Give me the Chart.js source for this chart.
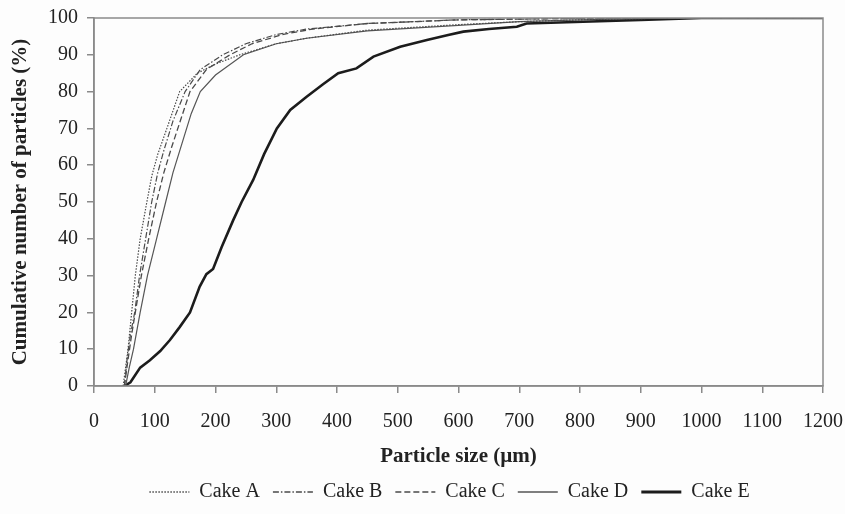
<!DOCTYPE html>
<html>
<head>
<meta charset="utf-8">
<script src="https://cdn.jsdelivr.net/npm/chart.js@4.4.1/dist/chart.umd.min.js"></script>
<style>
  html, body { margin: 0; padding: 0; background: #fdfdfd; }
  #wrap { width: 845px; height: 514px; }
</style>
</head>
<body>
<div id="wrap"><canvas id="graph" width="845" height="514"></canvas></div>
<script>
// values (particle size in µm, cumulative %)
const cakeNames = ['Cake A', 'Cake B', 'Cake C', 'Cake D', 'Cake E'];

const sizeA = [48, 52, 56, 62, 68, 76, 87, 95, 105, 120, 141, 170, 200, 240, 300, 350, 450, 600, 700, 800, 950, 1200];
const cumA  = [0, 5, 10, 20, 30, 40, 50, 57, 63, 70, 80, 85, 87.5, 90, 93, 94.5, 96.7, 98.2, 99, 99.5, 100, 100];

const sizeB = [50, 55, 60, 67, 75, 85, 95, 105, 115, 130, 150, 175, 212, 250, 300, 350, 450, 600, 800, 1000, 1200];
const cumB  = [0, 8, 14, 20, 30, 40, 50, 58, 64, 72, 80, 86, 90, 93, 95.5, 97, 98.5, 99.5, 99.9, 100, 100];

const sizeC = [50, 55, 62, 68, 78, 90, 103, 115, 128, 140, 158, 185, 224, 260, 310, 360, 450, 600, 800, 1000, 1200];
const cumC  = [0, 6, 14, 20, 30, 40, 50, 58, 65, 71, 80, 86, 90, 93, 95.5, 97, 98.5, 99.5, 99.9, 100, 100];

const sizeD = [52, 58, 65, 76, 88, 103, 118, 130, 145, 160, 175, 200, 246, 300, 350, 450, 600, 700, 800, 950, 1200];
const cumD  = [0, 5, 10, 20, 30, 40, 50, 58, 66, 74, 80, 84.5, 90, 93, 94.5, 96.5, 98, 99, 99.5, 100, 100];

const sizeE = [50, 60, 76, 92, 109, 125, 141, 158, 174, 185, 196, 210, 229, 243, 262, 280, 301, 323, 350, 377, 402, 432, 460, 504, 548, 583, 608, 650, 696, 712, 805, 900, 1000, 1200];
const cumE  = [0, 1, 5, 7, 9.5, 12.5, 16, 20, 27, 30.4, 31.8, 37.7, 45, 50, 56, 63, 70, 75, 78.6, 82, 85, 86.3, 89.5, 92.2, 94, 95.4, 96.3, 97, 97.6, 98.5, 99, 99.5, 100, 100];

const xTicks = [0, 100, 200, 300, 400, 500, 600, 700, 800, 900, 1000, 1100, 1200];
const yTicks = [0, 10, 20, 30, 40, 50, 60, 70, 80, 90, 100];

const lineColors = ['#4a4a4a', '#4a4a4a', '#4a4a4a', '#555555', '#1c1c1c'];
const lineWidths = [1.2, 1.2, 1.3, 1.2, 2.6];
const lineDashes = [[1.5, 1.5], [6, 2, 1.5, 2], [6, 3], [], []];

function pairUp(xs, ys) {
    return xs.map(function (x, i) { return { x: x, y: ys[i] }; });
}

const seriesX = [sizeA, sizeB, sizeC, sizeD, sizeE];
const seriesY = [cumA, cumB, cumC, cumD, cumE];

let datasets = cakeNames.map(function (name, i) {
    return {
        label: name,
        data: pairUp(seriesX[i], seriesY[i]),
        borderColor: lineColors[i],
        borderWidth: lineWidths[i],
        borderDash: lineDashes[i],
        pointRadius: 0,
        fill: false,
        tension: 0
    };
});

// outline of the plot area, and legend nudged under the plot centre
const plotBox = {
    id: 'plotBox',
    afterLayout(chart) {
        chart.legend.left += 36;
        chart.legend.right += 36;
    },
    afterDraw(chart) {
        let ctx = chart.ctx;
        let a = chart.chartArea;
        ctx.save();
        ctx.strokeStyle = '#8a8a8a';
        ctx.lineWidth = 1.5;
        ctx.strokeRect(a.left, a.top, a.right - a.left, a.bottom - a.top);
        ctx.restore();
    }
};

Chart.defaults.font.family = '"Liberation Serif", "Times New Roman", serif';
Chart.defaults.color = '#222';

let graph = document.getElementById('graph').getContext('2d');
let sizeChart = new Chart(graph, {
    type: 'line',
    data: { datasets: datasets },
    options: {
        responsive: false,
        animation: false,
        layout: { padding: { top: 18, right: 22, bottom: 2, left: 4 } },
        plugins: {
            tooltip: { enabled: false },
            legend: {
                position: 'bottom',
                labels: {
                    usePointStyle: true,
                    pointStyle: 'line',
                    pointStyleWidth: 40,
                    padding: 13,
                    font: { size: 20 },
                    color: '#222',
                    generateLabels: function () {
                        return cakeNames.map(function (name, i) {
                            return {
                                text: name,
                                strokeStyle: lineColors[i],
                                fillStyle: lineColors[i],
                                lineWidth: lineWidths[i] + 0.3,
                                lineDash: lineDashes[i],
                                pointStyle: 'line',
                                fontColor: '#222',
                                datasetIndex: i
                            };
                        });
                    }
                }
            }
        },
        scales: {
            x: {
                type: 'linear',
                min: 0,
                max: 1200,
                afterBuildTicks: function (scale) {
                    scale.ticks = xTicks.map(function (v) { return { value: v }; });
                },
                afterFit: function (scale) {
                    scale.height = 83;
                    scale.paddingLeft = 0;
                    scale.paddingRight = 0;
                },
                grid: { drawOnChartArea: false, drawTicks: true, tickLength: 7, color: '#8a8a8a', lineWidth: 1.5 },
                border: { color: '#8a8a8a', width: 1.5 },
                ticks: {
                    font: { size: 20 }, padding: 17, maxRotation: 0, autoSkip: false,
                    callback: function (v) { return String(v); }
                },
                title: { display: true, text: 'Particle size (µm)', font: { size: 21, weight: 'bold' }, padding: { top: 9, bottom: 0 } }
            },
            y: {
                min: 0,
                max: 100,
                afterBuildTicks: function (scale) {
                    scale.ticks = yTicks.map(function (v) { return { value: v }; });
                },
                afterFit: function (scale) {
                    scale.width = 90;
                    scale.paddingTop = 0;
                    scale.paddingBottom = 0;
                },
                grid: { drawOnChartArea: false, drawTicks: true, tickLength: 7, color: '#8a8a8a', lineWidth: 1.5 },
                border: { color: '#8a8a8a', width: 1.5 },
                ticks: { font: { size: 20 }, padding: 9, autoSkip: false },
                title: { display: true, text: 'Cumulative number of particles (%)', font: { size: 21, weight: 'bold' }, padding: { bottom: 2 } }
            }
        }
    },
    plugins: [plotBox]
});
</script>
</body>
</html>
